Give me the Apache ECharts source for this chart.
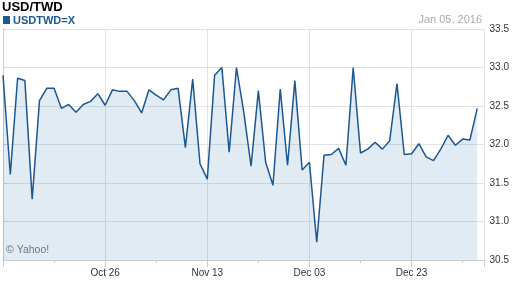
<!DOCTYPE html>
<html>
<head>
<meta charset="utf-8">
<script src="https://cdn.jsdelivr.net/npm/echarts@6/dist/echarts.min.js"></script>
<style>
html,body{margin:0;padding:0;background:#fff;}
#c{width:512px;height:288px;}
</style>
</head>
<body>
<div id="c"></div>
<script>
const dates = ['Oct 06','Oct 07','Oct 08','Oct 09','Oct 12','Oct 13','Oct 14','Oct 15','Oct 16','Oct 19','Oct 20','Oct 21','Oct 22','Oct 23','Oct 26','Oct 27','Oct 28','Oct 29','Oct 30','Nov 02','Nov 03','Nov 04','Nov 05','Nov 06','Nov 09','Nov 10','Nov 11','Nov 12','Nov 13','Nov 16','Nov 17','Nov 18','Nov 19','Nov 20','Nov 23','Nov 24','Nov 25','Nov 26','Nov 27','Nov 30','Dec 01','Dec 02','Dec 03','Dec 04','Dec 07','Dec 08','Dec 09','Dec 10','Dec 11','Dec 14','Dec 15','Dec 16','Dec 17','Dec 18','Dec 21','Dec 22','Dec 23','Dec 24','Dec 25','Dec 28','Dec 29','Dec 30','Dec 31','Jan 01','Jan 04','Jan 05'];
const usdtwd = [32.90,31.61,32.86,32.83,31.29,32.57,32.73,32.73,32.47,32.52,
                32.42,32.52,32.56,32.66,32.51,32.71,32.69,32.69,32.57,32.41,
                32.71,32.64,32.58,32.71,32.73,31.96,32.85,31.75,31.55,32.90,
                33.00,31.90,33.00,32.42,31.72,32.70,31.77,31.47,32.72,31.73,
                32.83,31.67,31.77,30.73,31.86,31.87,31.95,31.73,33.00,31.89,
                31.94,32.03,31.94,32.05,32.79,31.87,31.88,32.01,31.84,31.79,
                31.94,32.12,31.99,32.07,32.06,32.47];
const tickLabels = ['Oct 26','Nov 13','Dec 03','Dec 23'];
const yTicks = [30.5,31.0,31.5,32.0,32.5,33.0,33.5];
const titleText = 'USD/TWD';
const legendText = 'USDTWD=X';
const dateText = 'Jan 05, 2016';
const creditText = '\u00A9 Yahoo!';

const chart = echarts.init(document.getElementById('c'), null, {renderer:'canvas'});
const lineColor = '#1d5791';
const font = 'Arial, "Liberation Sans", sans-serif';
chart.setOption({
  animation:false,
  backgroundColor:'#fff',
  grid:{left:3, right:27, top:29, bottom:28, containLabel:false},
  xAxis:[{
    type:'value', position:'bottom', min:0, max:dates.length, interval:14,
    axisLine:{show:true, lineStyle:{color:'#cccccc', width:1}},
    axisTick:{show:true, length:7, lineStyle:{color:'#cccccc'}},
    splitLine:{show:true, lineStyle:{color:'#e2e2e2', width:1}},
    axisLabel:{margin:8, color:'#333', fontSize:10, fontFamily:font,
      formatter:function(v){ const d = dates[Math.round(v)]; return (Number.isInteger(v) && tickLabels.indexOf(d) >= 0) ? d : ''; }}
  },{
    type:'value', position:'bottom', offset:0, min:0, max:dates.length, interval:7,
    axisLine:{show:false}, splitLine:{show:false}, axisLabel:{show:false},
    axisTick:{show:true, length:3, lineStyle:{color:'#cccccc'}}
  }],
  yAxis:{
    type:'value', position:'right', min:yTicks[0], max:yTicks[yTicks.length-1], interval:0.5,
    axisLine:{show:true, lineStyle:{color:'#cccccc'}},
    axisTick:{show:true, length:3, lineStyle:{color:'#cccccc'}},
    splitLine:{show:true, lineStyle:{color:'#e2e2e2', width:1}},
    axisLabel:{margin:5, color:'#333', fontSize:10, fontFamily:font, formatter:function(v){return v.toFixed(1);}}
  },
  series:[{
    type:'line', xAxisIndex:0, data:usdtwd.map(function(v,i){return [i,v];}),
    showSymbol:false, symbol:'none',
    lineStyle:{color:lineColor, width:1.5},
    areaStyle:{color:'rgba(35,110,170,0.2)', origin:'start'}
  }],
  graphic:[
    {type:'text', left:2, top:1, style:{text:titleText, font:'bold 13px '+font, fill:'#000'}},
    {type:'rect', shape:{x:3, y:16, width:7, height:8}, style:{fill:lineColor}},
    {type:'text', left:13, top:15, style:{text:legendText, font:'bold 11px '+font, fill:lineColor}},
    {type:'text', right:30, top:14, style:{text:dateText, font:'11px '+font, fill:'#aaaaaa'}},
    {type:'text', left:6, top:245, style:{text:creditText, font:'10.5px '+font, fill:'#777777'}}
  ]
});
</script>
</body>
</html>
